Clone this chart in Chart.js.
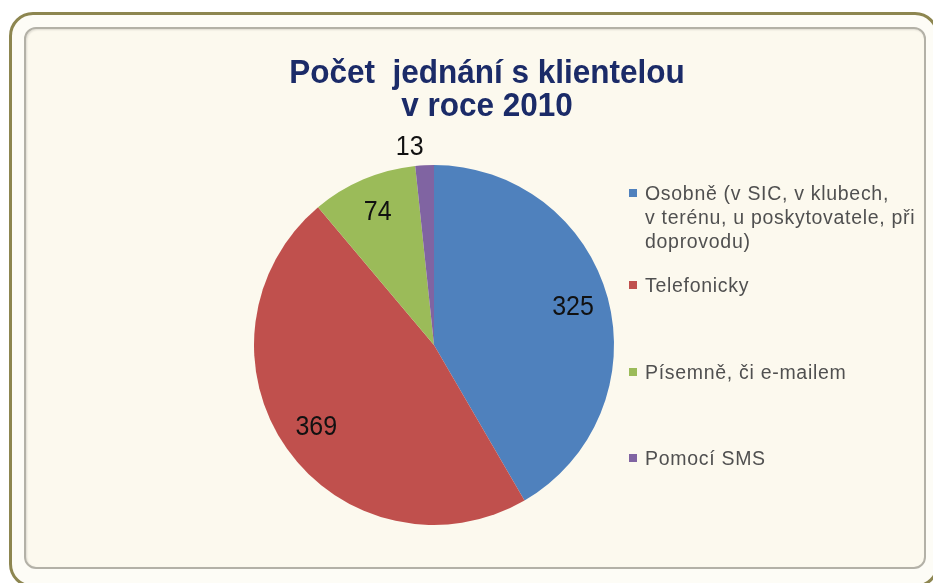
<!DOCTYPE html>
<html>
<head>
<meta charset="utf-8">
<script src="https://cdn.jsdelivr.net/npm/chart.js@4/dist/chart.umd.min.js"></script>
<style>
  html, body { margin:0; padding:0; background:#ffffff; width:933px; height:583px; overflow:hidden; }
  #outer { position:absolute; left:9px; top:12px; width:930px; height:576px; box-sizing:border-box;
           border:3.5px solid #8d8650; border-radius:24px; background:#fdfcf6; }
  #inner { position:absolute; left:24px; top:27px; width:902px; height:542px; box-sizing:border-box;
           border:2px solid #b3b1a7; border-radius:12px; background:#fcf9ee;
           box-shadow: inset 1px 1px 2px rgba(0,0,0,0.12); }
  #chart { position:absolute; left:0; top:0; }
  .tl { position:absolute; left:237px; width:500px; text-align:center;
        font-family:"Liberation Sans", Arial, sans-serif; font-weight:bold; font-size:31.5px;
        line-height:32px; height:32px; color:#1b2b68; white-space:pre;
        transform:scaleY(1.03); transform-origin:50% 50%; }
  .leg { position:absolute; left:629px; font-family:"Liberation Sans", Arial, sans-serif;
         font-size:19.5px; line-height:24px; color:#505050; letter-spacing:0.7px; }
  .leg .sw { position:absolute; left:0; top:8px; width:8px; height:8px; }
  .leg .tx { position:absolute; left:16px; top:0; white-space:pre; }
</style>
</head>
<body>
<div id="outer"></div>
<div id="inner"></div>
<canvas id="chart" width="933" height="583"></canvas>
<div id="title"></div>
<div id="legend"></div>
<script>
// ---- data ----
const titleLines = ["Počet  jednání s klientelou", "v roce 2010"];
const categories = [
  "Osobně (v SIC, v klubech,\nv terénu, u poskytovatele, při\ndoprovodu)",
  "Telefonicky",
  "Písemně, či e-mailem",
  "Pomocí SMS"
];
const values = [325, 369, 74, 13];
const colors = ["#4f81bd", "#c0504d", "#9bbb59", "#8064a2"];

// ---- title ----
const titleTops = [56, 89];
const titleEl = document.getElementById('title');
titleLines.forEach((t, i) => {
  const d = document.createElement('div');
  d.className = 'tl';
  d.style.top = titleTops[i] + 'px';
  d.textContent = t;
  titleEl.appendChild(d);
});

// ---- legend (HTML) ----
const legendTop = 181;
const legendOffsets = [0, 92, 179, 265];
const legendEl = document.getElementById('legend');
categories.forEach((c, i) => {
  const d = document.createElement('div');
  d.className = 'leg';
  d.style.top = (legendTop + legendOffsets[i]) + 'px';
  const sw = document.createElement('div');
  sw.className = 'sw';
  sw.style.background = colors[i];
  const tx = document.createElement('div');
  tx.className = 'tx';
  tx.textContent = c;
  d.appendChild(sw); d.appendChild(tx);
  legendEl.appendChild(d);
});

// ---- data labels plugin ----
const labelPlugin = {
  id: 'sliceLabels',
  afterDatasetsDraw(chart) {
    const ctx = chart.ctx;
    const meta = chart.getDatasetMeta(0);
    const data = chart.data.datasets[0].data;
    const total = data.reduce((a, b) => a + b, 0);
    ctx.save();
    ctx.font = '25px "Liberation Sans", Arial, sans-serif';
    ctx.fillStyle = '#111111';
    ctx.textBaseline = 'middle';
    meta.data.forEach((arc, i) => {
      const p = arc.getProps(['x', 'y', 'startAngle', 'endAngle', 'outerRadius'], true);
      const mid = (p.startAngle + p.endAngle) / 2;
      const small = data[i] / total < 0.05;
      const r = p.outerRadius * (small ? 1.1 : 0.8);
      const x = p.x + Math.cos(mid) * r;
      const y = p.y + Math.sin(mid) * r;
      ctx.textAlign = small ? (Math.cos(mid) < 0 ? 'right' : 'left') : 'center';
      ctx.save();
      ctx.translate(x, y);
      ctx.scale(1, 1.08);
      ctx.fillText(String(data[i]), 0, 0);
      ctx.restore();
    });
    ctx.restore();
  }
};

new Chart(document.getElementById('chart'), {
  type: 'pie',
  data: {
    labels: categories.map(c => c.replace(/\n/g, ' ')),
    datasets: [{
      data: values,
      backgroundColor: colors,
      borderWidth: 0,
      hoverOffset: 0
    }]
  },
  options: {
    responsive: false,
    animation: false,
    layout: { padding: { left: 254, right: 319, top: 165, bottom: 58 } },
    plugins: {
      legend: { display: false },
      title: { display: false },
      tooltip: { enabled: false }
    }
  },
  plugins: [labelPlugin]
});
</script>
</body>
</html>
